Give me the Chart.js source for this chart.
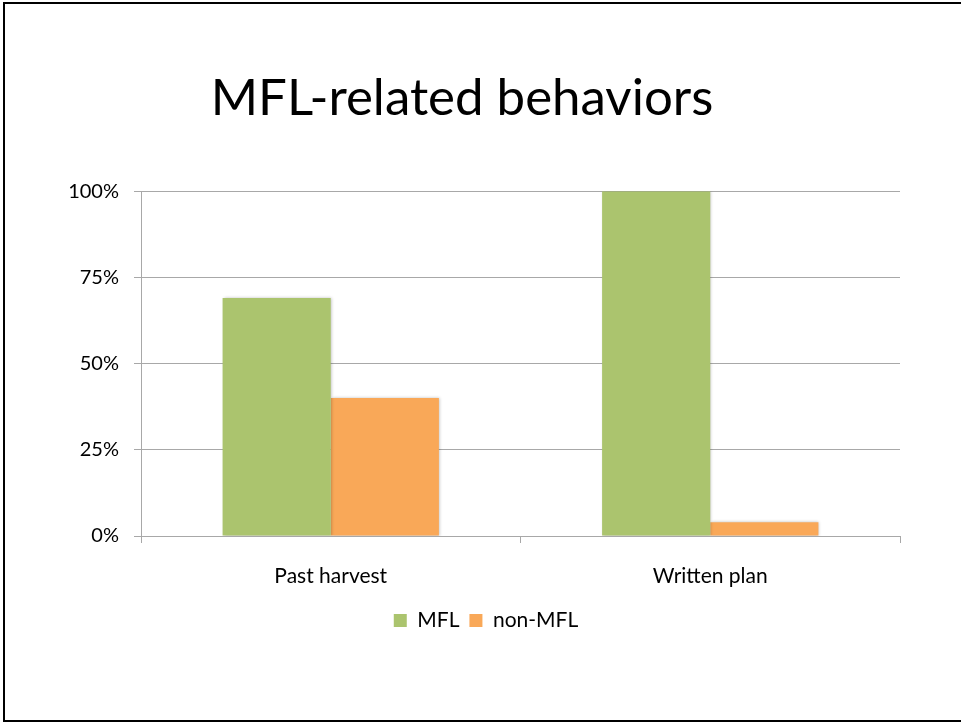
<!DOCTYPE html>
<html>
<head>
<meta charset="utf-8">
<title>MFL-related behaviors</title>
<script src="https://cdn.jsdelivr.net/npm/chart.js@4.4.1/dist/chart.umd.min.js"></script>
<style>
  html, body { margin: 0; padding: 0; background: #fff; overflow: hidden; }
  #wrap { position: relative; width: 961px; height: 723px; }
  #frame {
    position: absolute; left: 3px; top: 2px; width: 980px; height: 716px;
    border-top: 2px solid #000; border-left: 2px solid #000; border-bottom: 2px solid #000;
  }
  canvas { position: absolute; left: 0; top: 0; }
</style>
</head>
<body>
<div id="wrap">
  <div id="frame"></div>
  <canvas id="chart" width="961" height="723"></canvas>
</div>
<script>
// ── Data ──────────────────────────────────────────────────────────────────────
const categories = ['Past harvest', 'Written plan'];
const mflValues = [69, 100];
const nonMflValues = [40, 4];
const yTicks = [0, 25, 50, 75, 100];

const FONT = 'Lato, "Open Sans", sans-serif';
const GRID = '#a8a8a8';

// soft shadow behind the bars, like the original slide
const barShadow = {
  id: 'barShadow',
  beforeDatasetsDraw(chart) {
    const ctx = chart.ctx;
    ctx.save();
    ctx.shadowColor = 'rgba(0,0,0,0.25)';
    ctx.shadowBlur = 3;
    ctx.shadowOffsetX = 1;
    ctx.shadowOffsetY = 0;
  },
  afterDatasetsDraw(chart) {
    chart.ctx.restore();
  }
};

// legend sits a bit right of centre in the slide
const legendShift = {
  id: 'legendShift',
  afterLayout(chart) {
    chart.legend.left += 24;
    chart.legend.right += 24;
  }
};

new Chart(document.getElementById('chart'), {
  type: 'bar',
  data: {
    labels: categories,
    datasets: [
      { label: 'MFL', data: mflValues, backgroundColor: '#abc46e' },
      { label: 'non-MFL', data: nonMflValues, backgroundColor: '#f9a858' }
    ]
  },
  options: {
    responsive: false,
    animation: false,
    datasets: { bar: { categoryPercentage: 0.57, barPercentage: 1.0 } },
    layout: { padding: { left: 24, right: 61, top: 0, bottom: 82 } },
    plugins: {
      title: {
        display: true,
        text: 'MFL-related behaviors',
        color: '#000',
        font: { family: FONT, size: 51, weight: 'normal' },
        padding: { top: 68, bottom: 62 }
      },
      legend: {
        position: 'bottom',
        labels: {
          color: '#000',
          font: { family: FONT, size: 21 },
          boxWidth: 13,
          boxHeight: 13,
          padding: 10
        }
      },
      tooltip: { enabled: false }
    },
    scales: {
      x: {
        grid: { drawOnChartArea: false, color: GRID, tickLength: 7, offset: true },
        border: { color: GRID },
        ticks: { color: '#000', font: { family: FONT, size: 21 }, padding: 21 },
        afterFit(scale) { scale.height = 64; }
      },
      y: {
        min: 0,
        max: 100,
        afterBuildTicks(scale) { scale.ticks = yTicks.map(v => ({ value: v })); },
        grid: { color: GRID, tickLength: 7 },
        border: { color: GRID },
        ticks: { color: '#000', font: { family: FONT, size: 20 }, padding: 15, callback: v => v + '%' },
        afterFit(scale) { scale.width = 117; }
      }
    }
  },
  plugins: [barShadow, legendShift]
});
</script>
</body>
</html>
